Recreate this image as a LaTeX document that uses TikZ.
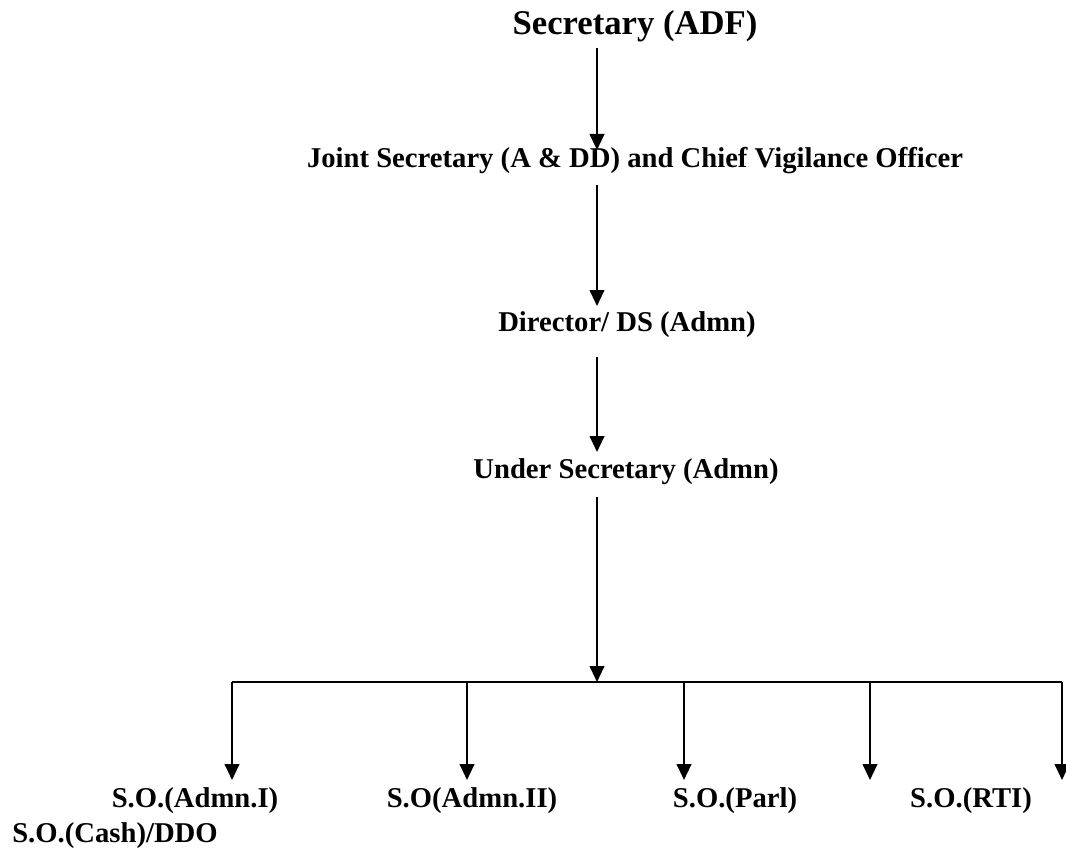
\documentclass[tikz,border=0pt]{standalone}
\usepackage{fontspec}
\setmainfont{Liberation Serif}
\usepackage{tikz}
\usetikzlibrary{arrows.meta,positioning}

\tikzset{
    post/.style={draw=none, font=\bfseries\fontsize{21.5}{24}\selectfont, inner sep=0pt},
    head/.style={draw=none, font=\bfseries\fontsize{26}{30}\selectfont, inner sep=0pt},
    link/.style={line width=1.5pt, -{Triangle[width=11pt,length=12pt]}},
    bar/.style={line width=1.5pt}
}

\begin{document}
\begin{tikzpicture}[x=0.75pt,y=-0.75pt]
        \useasboundingbox (0,0) rectangle (1066,852);
        % chain of posts
        \node[head] (sec) at (635,26) {Secretary (ADF)};
        \node[post] (js) at (635,161) {Joint Secretary (A \& DD) and Chief Vigilance Officer};
        \node[post] (dir) at (627,325) {Director/ DS (Admn)};
        \node[post] (us) at (626,472) {Under Secretary (Admn)};
        \coordinate (spine) at (597,682);
        \draw[link] (sec.south -| spine) ++(0,6) -- (597,150);
        \draw[link] (597,185) -- (597,306);
        \draw[link] (597,357) -- (597,452);
        \draw[link] (597,497) -- (spine);
        % sections
        \coordinate (bl) at (232,682);
        \coordinate (br) at (1062,682);
        \draw[bar] (bl) -- (br);
        \node[post] (so1) at (195,801) {S.O.(Admn.I)};
        \node[post] (so2) at (472,801) {S.O(Admn.II)};
        \node[post] (so3) at (735,801) {S.O.(Parl)};
        \node[post] (so4) at (971,801) {S.O.(RTI)};
        \node[post, anchor=west] (cash) at (12,836) {S.O.(Cash)/DDO};
        \foreach \x/\n in {232/1, 467/2, 684/3, 870/4, 1062/5}
            \draw[link] (\x,682) -- (\x,780);
    \end{tikzpicture}
\end{document}
